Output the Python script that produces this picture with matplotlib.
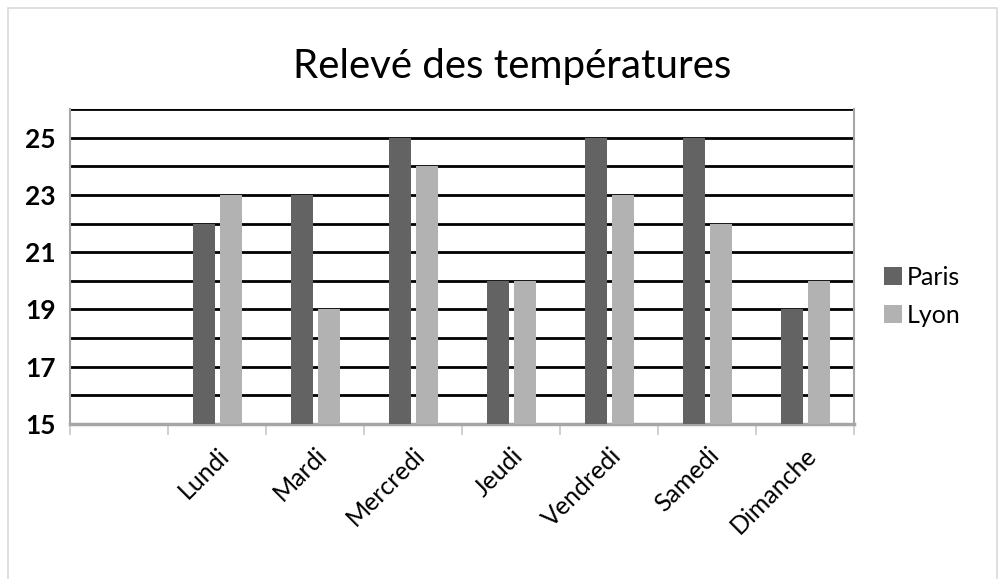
import matplotlib
matplotlib.use("Agg")
import matplotlib.pyplot as plt
import numpy as np
from matplotlib.patches import Rectangle

days = ["Lundi", "Mardi", "Mercredi", "Jeudi", "Vendredi", "Samedi", "Dimanche"]
paris = [22, 23, 25, 20, 25, 25, 19]
lyon = [23, 19, 24, 20, 23, 22, 20]
yticks = [15, 17, 19, 21, 23, 25]

plt.rcParams['font.family'] = ['Lato', 'DejaVu Sans']

fig = plt.figure(figsize=(10, 5.79), dpi=100)
fig.patches.append(Rectangle((0.008, -0.01), 0.989, 0.996, transform=fig.transFigure,
                             fill=False, edgecolor='#d9d9d9', lw=1.2))
ax = fig.add_axes([0.07, 0.2677, 0.784, 0.544])

x = np.arange(1, len(days) + 1)
w = 0.224
ax.bar(x - 0.133, paris, width=w, bottom=0, color='#636363', label='Paris', zorder=3)
ax.bar(x + 0.143, lyon, width=w, bottom=0, color='#b2b2b2', label='Lyon', zorder=3)

ax.set_xlim(-0.5, len(days) + 0.5)
ax.set_ylim(15, 26)
for v in range(15, 27):
    ax.axhline(v, color='black', lw=2.0, zorder=2)

ax.set_yticks(yticks)
ax.set_yticklabels([str(t) for t in yticks], fontsize=19, fontweight='bold')
ax.tick_params(axis='y', length=0, pad=10)

ax.set_xticks(np.arange(-0.5, len(days) + 1.0, 1.0))
ax.set_xticklabels([])
ax.tick_params(axis='x', which='major', length=8, width=1.2, color='#c8c8c8')
ax.set_xticks(x, minor=True)
ax.set_xticklabels(days, minor=True, rotation=45, ha='right', rotation_mode='anchor',
                   fontsize=18)
ax.tick_params(axis='x', which='minor', length=0, pad=14)

for s in ['left', 'right']:
    ax.spines[s].set_color('#a6a6a6')
    ax.spines[s].set_linewidth(1.5)
ax.spines['bottom'].set_color('#a6a6a6')
ax.spines['bottom'].set_linewidth(2.5)
ax.spines['top'].set_visible(False)

fig.text(0.512, 0.885, "Relevé des températures", ha='center', va='center', fontsize=29)

ax.legend(loc='center left', bbox_to_anchor=(1.01, 0.405), frameon=False, fontsize=18,
          handlelength=0.7, handleheight=0.7, handletextpad=0.2, labelspacing=0.6)

fig.savefig("out.png", dpi=100)
